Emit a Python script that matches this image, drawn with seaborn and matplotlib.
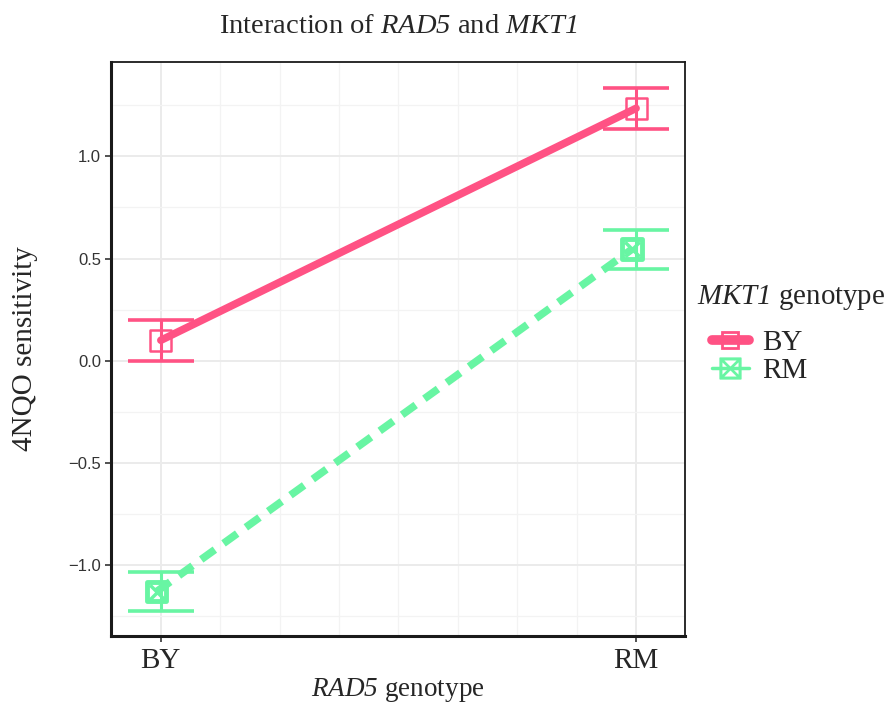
import numpy as np
import pandas as pd
import matplotlib
matplotlib.use("Agg")
import matplotlib.pyplot as plt
from matplotlib.lines import Line2D
from matplotlib.ticker import MultipleLocator
import seaborn as sns

# ---- data ----
rad5_levels = ["BY", "RM"]
mkt1_levels = ["BY", "RM"]
mean_by = [0.10, 1.235]      # MKT1 = BY
se_by = [0.10, 0.10]
mean_rm = [-1.13, 0.545]     # MKT1 = RM
se_rm = [0.095, 0.095]
y_ticks = [-1.0, -0.5, 0.0, 0.5, 1.0]

pink = "#FF5284"
green = "#68F5A3"

sns.set_theme(style="white")
plt.rcParams["font.family"] = ["Liberation Serif", "DejaVu Serif"]
plt.rcParams["mathtext.fontset"] = "custom"
plt.rcParams["mathtext.it"] = "Liberation Serif:italic"
plt.rcParams["mathtext.rm"] = "Liberation Serif:italic"
plt.rcParams["mathtext.default"] = "rm"

rows = []
for i, lv in enumerate(rad5_levels):
    rows.append({"RAD5": lv, "x": i, "MKT1": "BY", "y": mean_by[i], "se": se_by[i]})
    rows.append({"RAD5": lv, "x": i, "MKT1": "RM", "y": mean_rm[i], "se": se_rm[i]})
df = pd.DataFrame(rows)
df["xd"] = df["x"] + np.where(df["MKT1"] == "RM", -0.009, 0.0)

fig = plt.figure(figsize=(8.87, 7.06), dpi=100)
ax = fig.add_axes([0.1251, 0.0992, 0.6472, 0.8128])
ax.set_facecolor("white")

# grid
ax.set_xlim(-0.105, 1.103)
ax.set_ylim(-1.347, 1.461)
ax.xaxis.set_major_locator(MultipleLocator(0.25))
ax.xaxis.set_minor_locator(MultipleLocator(0.125))
ax.yaxis.set_major_locator(MultipleLocator(0.5))
ax.yaxis.set_minor_locator(MultipleLocator(0.25))
ax.grid(which="major", color="#EBEBEB", lw=1.4)
ax.grid(which="minor", color="#F3F3F3", lw=0.9)
ax.set_axisbelow(True)

# lines
sns.lineplot(data=df, x="xd", y="y", hue="MKT1", style="MKT1",
             palette={"BY": pink, "RM": green},
             dashes={"BY": "", "RM": (2.2, 1.4)}, lw=5.5,
             markers=False, legend=False, ax=ax, zorder=3)

# error bars
for lvl, col in zip(mkt1_levels, [pink, green]):
    sub = df[df["MKT1"] == lvl]
    ax.errorbar(sub["x"], sub["y"], yerr=sub["se"], fmt="none", ecolor=col,
                elinewidth=2.2, capsize=24, capthick=2.6, zorder=4)

# markers
sub = df[df["MKT1"] == "BY"]
ax.scatter(sub["xd"], sub["y"], marker="s", s=230, facecolors="none",
           edgecolors=pink, linewidths=1.8, zorder=5)
sub = df[df["MKT1"] == "RM"]
ax.scatter(sub["xd"], sub["y"], marker="s", s=200, facecolors="none",
           edgecolors=green, linewidths=3.5, zorder=5)
ax.scatter(sub["xd"], sub["y"], marker="x", s=110, color=green,
           linewidths=2.5, zorder=5)

# axes styling
for s in ax.spines.values():
    s.set_color("#1a1a1a")
    s.set_linewidth(1.3)
ax.spines["left"].set_linewidth(2.2)
ax.spines["bottom"].set_linewidth(2.2)

ax.set_xticks([0, 1])
ax.set_xticklabels(rad5_levels, fontsize=21)
ax.set_yticks(y_ticks)
ax.set_yticklabels([f"{v:.1f}".replace("-", "\u2212") for v in y_ticks],
                   fontsize=12, family=["Liberation Sans", "DejaVu Sans"], color="#333333")
ax.tick_params(axis="both", which="major", length=4, width=1.2, color="#333333",
               bottom=True, left=True)
ax.tick_params(axis="x", pad=5)
ax.tick_params(axis="y", pad=3)
ax.tick_params(axis="both", which="minor", length=0)

ax.set_xlabel(r"$\mathrm{RAD5}$ genotype", fontsize=19.5, labelpad=1)
ax.set_ylabel("4NQO sensitivity", fontsize=21, labelpad=22)
ax.set_title(r"Interaction of $\mathrm{RAD5}$ and $\mathrm{MKT1}$", fontsize=20.5, pad=21)

# legend (title drawn separately so keys can be indented as in reference)
fig.text(0.786, 0.579, r"$\mathrm{MKT1}$ genotype", fontsize=20.8,
         ha="left", va="center")
handles = [
    Line2D([0], [0], color=pink, lw=7, marker="s", markersize=11,
           markerfacecolor="none", markeredgecolor=pink, markeredgewidth=2.0,
           solid_capstyle="round"),
    Line2D([0], [0], color=green, lw=2.5, marker=r"$\boxtimes$",
           markersize=15, markeredgecolor=green, markerfacecolor=green),
]
leg = fig.legend(handles, mkt1_levels, loc="upper left", bbox_to_anchor=(0.803, 0.533),
                 frameon=False, fontsize=21, handlelength=1.25, handletextpad=0.45,
                 labelspacing=0.05, borderaxespad=0, borderpad=0)

fig.savefig("out.png", dpi=100)
